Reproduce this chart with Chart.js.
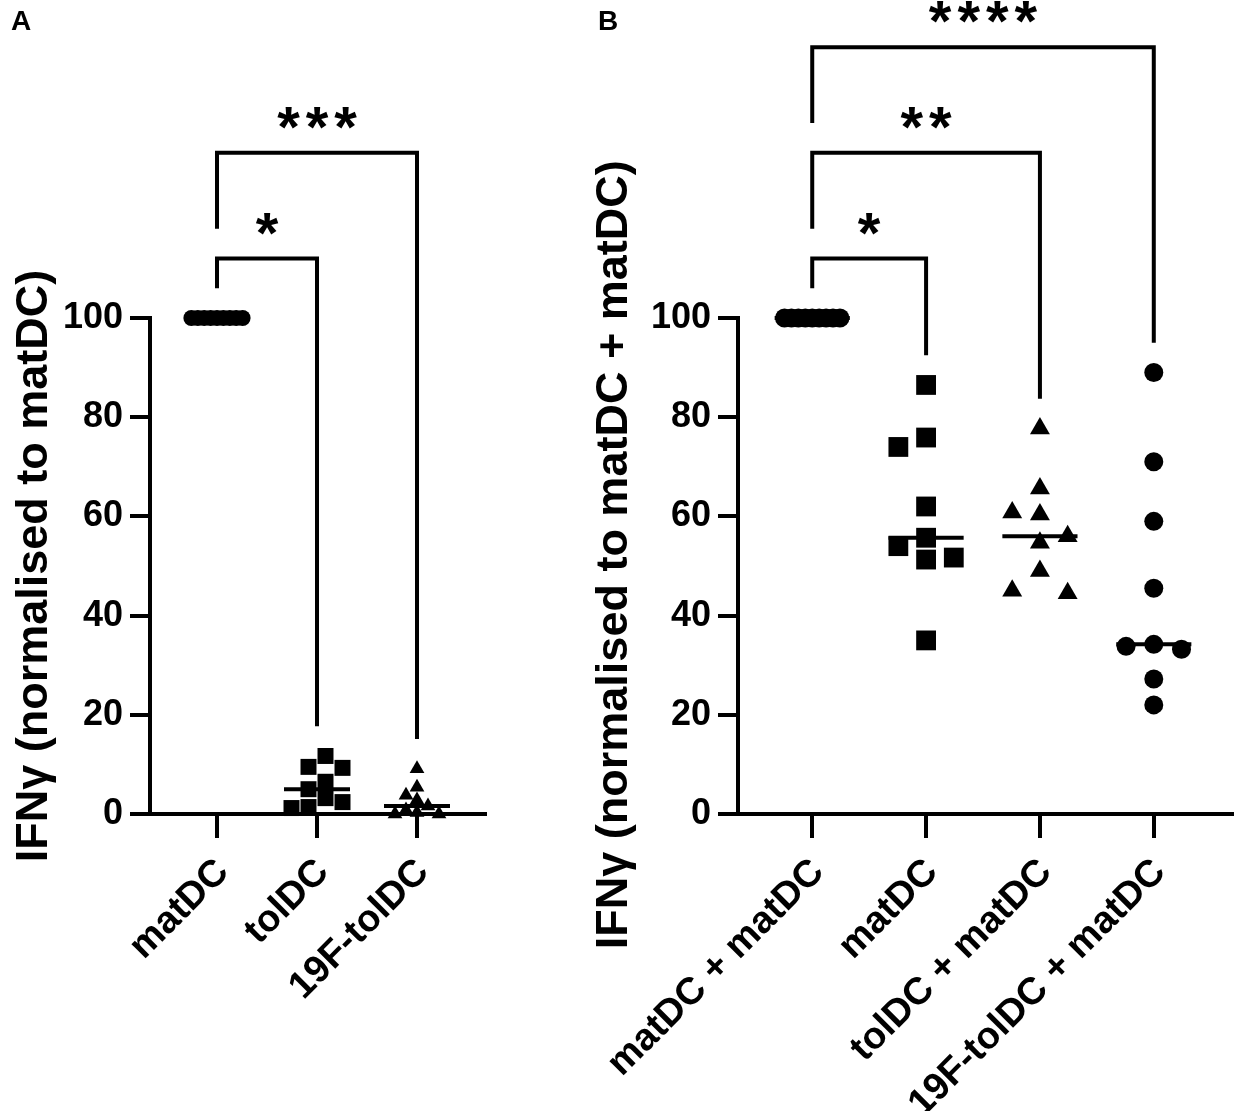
<!DOCTYPE html>
<html lang="en">
<head>
<meta charset="UTF-8">
<title>IFNγ normalised to matDC</title>
<script src="https://cdn.jsdelivr.net/npm/chart.js@4.4.1/dist/chart.umd.min.js"></script>
<style>
  html, body { margin: 0; padding: 0; background: #fff; }
  body { width: 1246px; height: 1111px; position: relative; overflow: hidden;
         font-family: "Liberation Sans", Arial, sans-serif; }
  canvas { position: absolute; top: 0; }
  .tag { position: absolute; top: 5px; font-weight: bold; font-size: 28px; z-index: 2; }
</style>
</head>
<body>
<canvas id="chartA" width="590" height="1111" style="left:0"></canvas>
<canvas id="chartB" width="656" height="1111" style="left:590px"></canvas>
<div class="tag" style="left:11px">A</div>
<div class="tag" style="left:598px">B</div>

<script>
// ---- panel A : IFNg normalised to matDC ----
const catsA = ['matDC', 'tolDC', '19F-tolDC'];
const matDcA = [100, 100, 100, 100, 100, 100, 100, 100, 100];
const tolDcA = [11.7, 9.5, 9.3, 6.5, 5.0, 3.2, 2.4, 1.4, 1.2];
const f19TolDcA = [9.1, 5.4, 3.8, 2.8, 1.6, 0.8, 0.3, 0, 0];
const starsA = ['*', '***'];

// ---- panel B : IFNg normalised to matDC + matDC ----
const catsB = ['matDC + matDC', 'matDC', 'tolDC + matDC', '19F-tolDC + matDC'];
const matMatB = [100, 100, 100, 100, 100, 100, 100, 100, 100];
const matB = [86.5, 75.9, 74.0, 62.0, 55.7, 54.0, 51.7, 51.3, 35.0];
const tolMatB = [77.7, 65.6, 60.8, 60.4, 56.0, 54.7, 49.0, 45.0, 44.5];
const f19MatB = [89.0, 71.0, 59.0, 45.5, 34.2, 33.8, 33.2, 27.2, 22.0];
const starsB = ['*', '**', '****'];

const yTicks = [0, 20, 40, 60, 80, 100];
const FONT = '"Liberation Sans", Arial, sans-serif';

function median(v) {
  const s = [...v].sort((a, b) => a - b);
  const m = s.length >> 1;
  return s.length % 2 ? s[m] : (s[m - 1] + s[m]) / 2;
}

// column scatter like Prism: each point takes the nearest free column,
// then the whole group is centred on its category
function swarm(vals, col, minDy) {
  const placed = [];
  const cols = vals.map(v => {
    for (let k = 0; ; k++) {
      const c = k === 0 ? 0 : (k % 2 ? -(k + 1) / 2 : k / 2);
      if (!placed.some(p => p.c === c && Math.abs(p.v - v) < minDy)) {
        placed.push({ c, v });
        return c;
      }
    }
  });
  const shift = (Math.min(...cols) + Math.max(...cols)) / 2;
  return cols.map(c => (c - shift) * col);
}

// significance stars above the brackets
const starPlugin = {
  id: 'stars',
  afterDraw(chart, args, opts) {
    const { ctx, scales: { x, y } } = chart;
    ctx.save();
    ctx.fillStyle = '#000';
    ctx.font = 'bold 58px ' + FONT;
    ctx.letterSpacing = '6px';
    ctx.textAlign = 'center';
    opts.labels.forEach((s, k) => {
      const m = ctx.measureText(s);
      const cx = x.getPixelForValue((k + 1) / 2);
      const cy = y.getPixelForValue(opts.tops[k] + 7);
      ctx.fillText(s, cx + 3, cy + (m.actualBoundingBoxAscent - m.actualBoundingBoxDescent) / 2);
    });
    ctx.restore();
  }
};

function buildPanel(id, cats, groups, stars, look) {
  const datasets = [];
  groups.forEach((g, i) => {
    const offs = swarm(g.vals, g.colPx / look.pxX, g.sizePx / look.pxY);
    datasets.push({
      data: g.vals.map((v, j) => ({ x: i + offs[j], y: v })),
      pointStyle: g.shape,
      pointRadius: g.r,
      pointHoverRadius: g.r,
      backgroundColor: '#000',
      borderColor: '#000',
      borderWidth: 0,
      clip: false
    });
    const m = median(g.vals);
    datasets.push({
      type: 'line',
      data: [{ x: i - look.half, y: m }, { x: i + look.half, y: m }],
      borderColor: '#000',
      borderWidth: 4,
      borderCapStyle: 'butt',
      pointRadius: 0,
      clip: false
    });
  });

  // brackets all start at the first (control) group
  const tops = stars.map((s, k) => 112 + 21.3 * k);
  stars.forEach((s, k) => {
    const j = k + 1;
    const leftEnd = (k === 0 ? Math.max(...groups[0].vals) : tops[k - 1]) + 6;
    const rightEnd = Math.max(...groups[j].vals) + 6;
    datasets.push({
      type: 'line',
      data: [{ x: 0, y: leftEnd }, { x: 0, y: tops[k] }, { x: j, y: tops[k] }, { x: j, y: rightEnd }],
      borderColor: '#000',
      borderWidth: 4,
      borderJoinStyle: 'miter',
      borderCapStyle: 'butt',
      pointRadius: 0,
      clip: false
    });
  });

  return new Chart(document.getElementById(id), {
    type: 'scatter',
    data: { datasets },
    plugins: [starPlugin],
    options: {
      responsive: false,
      animation: false,
      events: [],
      layout: { padding: { top: 318, right: look.padRight, left: 0, bottom: 0 } },
      plugins: {
        legend: { display: false },
        tooltip: { enabled: false },
        stars: { labels: stars, tops }
      },
      scales: {
        x: {
          type: 'linear',
          min: look.xMin,
          max: look.xMax,
          afterBuildTicks: s => { s.ticks = cats.map((c, i) => ({ value: i })); },
          afterFit: s => { s.height = 297; s.paddingLeft = 0; s.paddingRight = 0; },
          grid: { drawOnChartArea: false, drawTicks: true, tickLength: 24, color: '#000', lineWidth: 4 },
          border: { color: '#000', width: 4 },
          ticks: {
            callback: v => cats[v],
            autoSkip: false,
            minRotation: 45,
            maxRotation: 45,
            color: '#000',
            padding: 12,
            labelOffset: 6,
            font: { family: FONT, size: 38, weight: 'bold' }
          }
        },
        y: {
          min: 0,
          max: 100,
          afterBuildTicks: s => { s.ticks = yTicks.map(v => ({ value: v })); },
          afterFit: s => { s.width = look.yWidth; },
          grid: { drawOnChartArea: false, drawTicks: true, tickLength: 20, color: '#000', lineWidth: 4 },
          border: { color: '#000', width: 4 },
          ticks: { color: '#000', padding: 7, font: { family: FONT, size: 36, weight: 'bold' } },
          title: {
            display: true,
            text: look.title,
            color: '#000',
            padding: { top: look.titlePad, bottom: 0 },
            font: { family: FONT, size: 45, weight: 'bold', lineHeight: 1.1 }
          }
        }
      }
    }
  });
}

buildPanel('chartA', catsA, [
  { vals: matDcA, shape: 'circle', r: 8, colPx: 6.4, sizePx: 16 },
  { vals: tolDcA, shape: 'rect', r: 11.3, colPx: 17, sizePx: 16 },
  { vals: f19TolDcA, shape: 'triangle', r: 8.5, colPx: 11, sizePx: 12 }
], starsA, {
  title: 'IFNγ (normalised to matDC)',
  xMin: -0.67, xMax: 2.68, pxX: 100, pxY: 4.96, half: 0.33,
  yWidth: 150, padRight: 105, titlePad: 10
});

buildPanel('chartB', catsB, [
  { vals: matMatB, shape: 'circle', r: 9.5, colPx: 7, sizePx: 19 },
  { vals: matB, shape: 'rect', r: 14, colPx: 28, sizePx: 20 },
  { vals: tolMatB, shape: 'triangle', r: 11.5, colPx: 28, sizePx: 25 },
  { vals: f19MatB, shape: 'circle', r: 9.5, colPx: 28, sizePx: 25 }
], starsB, {
  title: '\u2002IFNγ (normalised to matDC + matDC)',
  xMin: -0.652, xMax: 3.687, pxX: 115, pxY: 4.96, half: 0.33,
  yWidth: 148, padRight: 6, titlePad: 0
});
</script>
</body>
</html>
